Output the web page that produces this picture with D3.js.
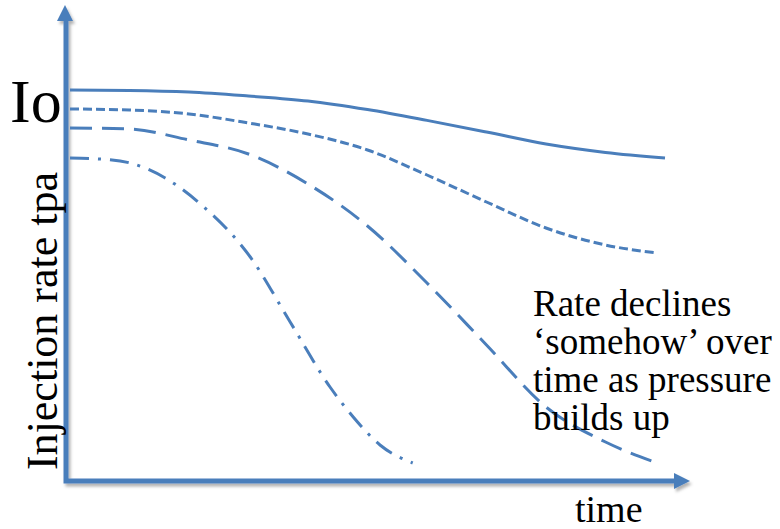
<!DOCTYPE html>
<html>
<head>
<meta charset="utf-8">
<script src="https://cdn.jsdelivr.net/npm/d3@7"></script>
<style>
  body { margin: 0; background: #fff; }
  text { font-family: "Liberation Serif", "Times New Roman", serif; fill: #000; }
</style>
</head>
<body>
<div id="chart"></div>
<script>
// time samples (arbitrary units, 0..100) and rate values (% of Io)
const timeFull = [0, 10, 20, 30, 40, 50, 60, 70, 80, 90, 100];
const timeShort = [0, 10, 20, 30, 40, 50, 60, 70, 80, 90, 98.7];
const timeFast = [0, 5, 10.1, 16, 22.5, 30.3, 37, 43.7, 47.6, 52.1, 57.6];

const rateSolid = [97.5, 97.4, 97.0, 96.0, 94.75, 92.6, 89.9, 87.0, 84.0, 81.9, 80.5];
const rateShortDash = [92.75, 92.5, 91.5, 89.25, 86.5, 82.5, 76.25, 69.5, 63.0, 58.75, 56.75];
const rateLongDash = [88, 87.75, 85, 81.5, 74, 63.5, 49.25, 33.75, 18.25, 9.5, 4.25];
const rateDashDot = [80.5, 80.25, 79.25, 75.5, 68.25, 55.75, 39.5, 23.25, 15.75, 8.75, 4.25];

const noteLines = ["Rate declines", "\u2018somehow\u2019 over", "time as pressure", "builds up"];

(function chart(){
let width = 780,
    height = 529,
    blue = "#4a7ebb";

const svg = d3.select("#chart")
    .append("svg")
    .attr("width", width)
    .attr("height", height)
    .attr("viewBox", [0, 0, width, height]);

const defs = svg.append("defs");
defs.append("filter")
    .attr("id", "shadow")
    .attr("x", "-10%").attr("y", "-10%")
    .attr("width", "130%").attr("height", "130%")
    .append("feDropShadow")
    .attr("dx", 2).attr("dy", 3)
    .attr("stdDeviation", 1.8)
    .attr("flood-color", "#000")
    .attr("flood-opacity", 0.3);

let x = d3.scaleLinear()
    .domain([0, 100])
    .range([70, 665]);

let y = d3.scaleLinear()
    .domain([0, 100])
    .range([480, 80]);

// axes with arrow heads
const axisX = 66, axisY = 481, yTop = 5, xRight = 690;
const axes = svg.append("g").attr("filter", "url(#shadow)");

axes.append("path")
    .attr("d", `M${axisX},${yTop + 14}V${axisY}H${xRight - 14}`)
    .attr("fill", "none")
    .attr("stroke", blue)
    .attr("stroke-width", 5);

axes.append("path")
    .attr("d", `M${axisX - 1},${yTop}L${axisX - 9},${yTop + 16}L${axisX + 7},${yTop + 16}Z`)
    .attr("fill", blue);

axes.append("path")
    .attr("d", `M${xRight},${axisY}L${xRight - 16},${axisY - 8}L${xRight - 16},${axisY + 8}Z`)
    .attr("fill", blue);

// curves
const series = [
    {t: timeFull, v: rateSolid, dash: null},
    {t: timeShort, v: rateShortDash, dash: "9,4"},
    {t: timeShort, v: rateLongDash, dash: "22,10"},
    {t: timeFast, v: rateDashDot, dash: "19,9,3,9"}
];

const line = d3.line()
    .x(d => x(d[0]))
    .y(d => y(d[1]))
    .curve(d3.curveMonotoneX);

svg.append("g")
    .selectAll("path")
    .data(series)
    .join("path")
    .attr("d", s => line(d3.zip(s.t, s.v)))
    .attr("fill", "none")
    .attr("stroke", blue)
    .attr("stroke-width", 3)
    .attr("stroke-dasharray", s => s.dash);

// labels
svg.append("text")
    .attr("x", 10)
    .attr("y", 122)
    .style("font-size", "62px")
    .text("Io");

svg.append("text")
    .attr("transform", "translate(57,321) rotate(-90)")
    .attr("text-anchor", "middle")
    .style("font-size", "44px")
    .text("Injection rate tpa");

svg.append("text")
    .attr("x", 575)
    .attr("y", 522)
    .style("font-size", "38px")
    .text("time");

svg.append("g")
    .selectAll("text")
    .data(noteLines)
    .join("text")
    .attr("x", 533)
    .attr("y", (d, i) => 316 + i * 38)
    .style("font-size", "37px")
    .text(d => d);
})();
</script>
</body>
</html>
